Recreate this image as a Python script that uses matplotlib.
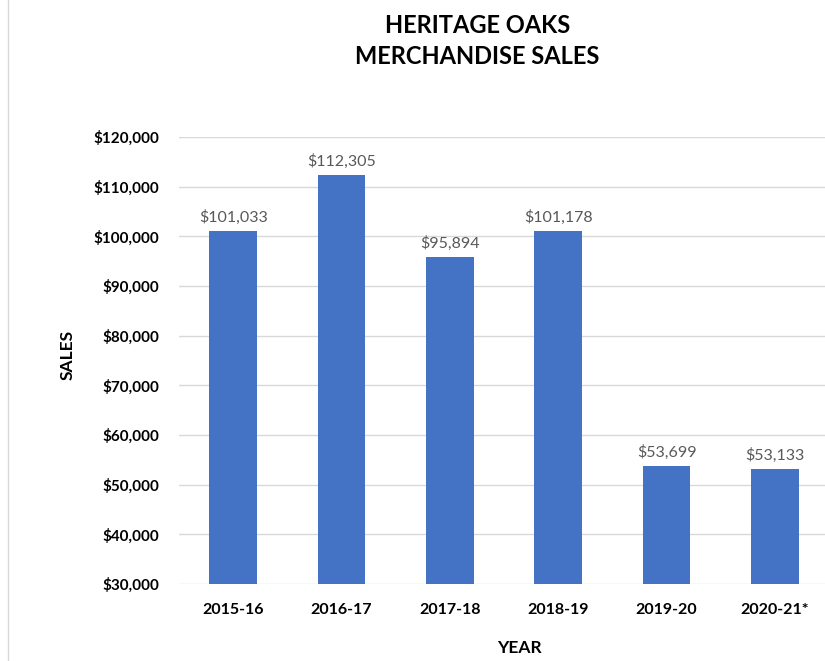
import matplotlib.pyplot as plt
from matplotlib.lines import Line2D
from matplotlib.ticker import FuncFormatter

plt.rcParams["font.family"] = ["Lato", "DejaVu Sans"]

years = ["2015-16", "2016-17", "2017-18", "2018-19", "2019-20", "2020-21*"]
sales = [101033, 112305, 95894, 101178, 53699, 53133]

fig = plt.figure(figsize=(8.25, 6.61), dpi=100)
ax = fig.add_axes([0.217, 0.1165, 0.788, 0.6762])

x = range(len(years))
bars = ax.bar(x, sales, width=0.44, color="#4472C4", zorder=3)
for xi, v in zip(x, sales):
    ax.text(xi, v + 1200, f"${v:,}", ha="center", va="bottom",
            fontsize=11.5, color="#595959", zorder=4)

ax.set_xlim(-0.5, 5.5)
ax.set_ylim(30000, 120000)
ax.set_yticks(range(30000, 120001, 10000))
ax.yaxis.set_major_formatter(FuncFormatter(lambda v, p: f"${v:,.0f}"))
ax.set_xticks(list(x))
ax.set_xticklabels(years, fontweight="bold", fontsize=11.5)
for lab in ax.get_yticklabels():
    lab.set_fontweight("bold")
    lab.set_fontsize(11)
ax.tick_params(length=0)
ax.tick_params(axis="x", pad=14)
ax.tick_params(axis="y", pad=14)
ax.grid(axis="y", color="#D9D9D9", linewidth=1, zorder=0)
for s in ax.spines.values():
    s.set_visible(False)

fig.text(0.579, 0.962, "HERITAGE OAKS", ha="center", va="center",
         fontsize=17, fontweight="bold")
fig.text(0.579, 0.914, "MERCHANDISE SALES", ha="center", va="center",
         fontsize=17, fontweight="bold")
fig.text(0.082, 0.463, "SALES", rotation=90, ha="center", va="center",
         fontsize=12.5, fontweight="bold")
fig.text(0.630, 0.019, "YEAR", ha="center", va="center",
         fontsize=12.5, fontweight="bold")

fig.add_artist(Line2D([0.0097, 0.0097], [0, 1], color="#D9D9D9", linewidth=1))

fig.savefig("out.png", dpi=100)
